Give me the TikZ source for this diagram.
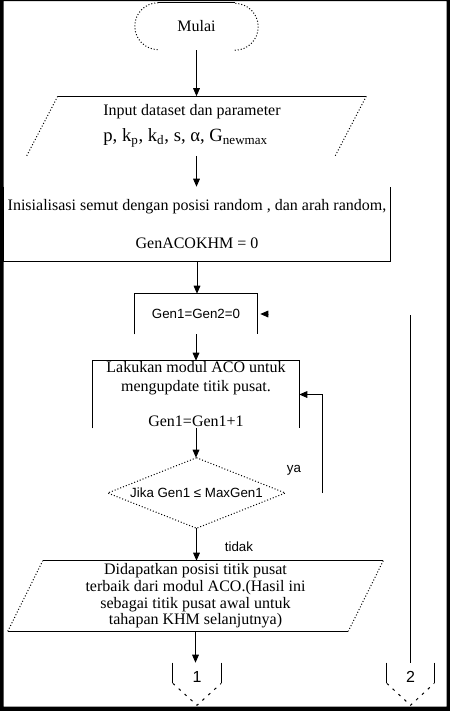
\documentclass[tikz,border=0pt]{standalone}
\usepackage{fontspec}
\setmainfont{Liberation Serif}
\setsansfont{Liberation Sans}
\usepackage{tikz}
\usetikzlibrary{calc,arrows,arrows.meta}

\newcommand{\pxu}{0.75pt}

\tikzset{
	garis/.style={line width=0.75pt},
	titik/.style={line width=0.75pt, dash pattern=on 0.75pt off 1.5pt},
	putus/.style={line width=0.75pt, dash pattern=on 2pt off 4pt},
	blok/.style={rectangle, inner sep=0pt, align=center, font=\fontsize{12}{14.25}\selectfont},
	tulisan/.style={inner sep=0pt, font=\sffamily\fontsize{10}{12}\selectfont},
	panah/.style={garis, ->, >={Triangle[length=6pt,width=5pt]}},
}

\begin{document}
\begin{tikzpicture}[x=\pxu, y=-\pxu]
	\useasboundingbox (0,0) rectangle (450,711);
	%frame
	\fill[even odd rule] (0,0) rectangle (450,711) (3.5,1) rectangle (446.5,706.5);
	
	%blocks
	\node[blok, minimum width=123*\pxu, minimum height=47*\pxu] (mulai) at (196.5,26.5) {Mulai};
	\node[blok, minimum width=308*\pxu, minimum height=59*\pxu, align=left] (input) at (192,126)
		{Input dataset dan parameter\\[5pt]\fontsize{14}{16}\selectfont p, k\textsubscript{p}, k\textsubscript{d}, s, α, G\textsubscript{newmax}};
	\node[blok, minimum width=386*\pxu, minimum height=74*\pxu] (init) at (197,224)
		{Inisialisasi semut dengan posisi random , dan arah  random,\\[14.25pt]GenACOKHM = 0};
	\node[blok, tulisan, minimum width=122*\pxu, minimum height=40*\pxu] (gen) at (196,314) {Gen1=Gen2=0};
	\node[blok, minimum width=206*\pxu, minimum height=67*\pxu] (aco) at (196,394.5)
		{Lakukan modul ACO untuk\\ mengupdate titik pusat.\\[12pt]Gen1=Gen1+1};
	\node[tulisan, minimum width=177*\pxu, minimum height=70*\pxu] (cek) at (196.5,493) {Jika Gen1 ≤ MaxGen1};
	\node[blok, minimum width=340*\pxu, minimum height=70*\pxu, font=\fontsize{12}{12.5}\selectfont] (hasil) at (195.5,596)
		{Didapatkan posisi titik pusat\\ terbaik dari modul ACO.(Hasil ini\\ sebagai titik pusat awal untuk\\ tahapan KHM selanjutnya)};
	\node[tulisan, font=\sffamily\fontsize{12}{14}\selectfont, minimum width=48*\pxu, minimum height=28*\pxu] (satu) at (197,677) {1};
	\node[tulisan, font=\sffamily\fontsize{12}{14}\selectfont, minimum width=47*\pxu, minimum height=28*\pxu] (dua) at (410.5,677) {2};
	
	%outer labels
	\node[tulisan] (ya) at (294,470) {ya};
	\node[tulisan] (tidak) at (239,547) {tidak};
	
	%outlines
	\draw[garis] ($(mulai.north west)+(23.5,0)$) -- ($(mulai.north east)+(-23.5,0)$);
	\draw[titik] ($(mulai.north west)+(23.5,0)$) arc[start angle=90, end angle=270, radius=17.6pt];
	\draw[titik] ($(mulai.south east)+(-23.5,0)$) arc[start angle=-90, end angle=90, radius=17.6pt];
	%
	\draw[titik] ($(input.south west)+(-11,0)$) -- ($(input.north west)+(20,0)$);
	\draw[garis] ($(input.north west)+(20,0)$) -- ($(input.north east)+(20,0)$);
	\draw[titik] ($(input.north east)+(20,0)$) -- ($(input.south east)+(-11,0)$);
	%
	\draw[garis] (init.north west) -- (init.south west) -- (init.south east) -- (init.north east);
	\draw[garis] (gen.south west) -- (gen.north west) -- (gen.north east) -- (gen.south east);
	\draw[garis] (aco.south west) -- (aco.north west) -- (aco.north east) -- (aco.south east);
	\draw[titik] (cek.north) -- (cek.east) -- (cek.south) -- (cek.west) -- cycle;
	%
	\draw[titik] ($(hasil.south west)+(-17.5,0)$) -- ($(hasil.north west)+(17.5,0)$);
	\draw[garis] ($(hasil.north west)+(17.5,0)$) -- ($(hasil.north east)+(17.5,0)$);
	\draw[titik] ($(hasil.north east)+(17.5,0)$) -- ($(hasil.south east)+(-17.5,0)$);
	\draw[garis] ($(hasil.south east)+(-17.5,0)$) -- ($(hasil.south west)+(-17.5,0)$);
	%
	\foreach \k in {satu,dua}{
		\draw[garis] (\k.north west) -- ($(\k.south west)+(0,-8)$);
		\draw[garis] (\k.north east) -- ($(\k.south east)+(0,-8)$);
		\draw[putus] ($(\k.south west)+(0,-8)$) -- ($(\k.south)+(0,14)$) -- ($(\k.south east)+(0,-8)$);
	}
	
	%arrows
	\draw[panah] (mulai.south) -- (mulai.south |- input.north);
	\draw[panah] (mulai.south |- input.south) -- (mulai.south |- init.north);
	\draw[panah] (init.south) -- (init.south |- gen.north);
	\draw[panah] (gen.south) -- (aco.north);
	\draw[panah] (aco.south) -- (aco.south |- cek.north);
	\draw[panah] (cek.south) -- (cek.south |- hasil.north);
	\draw[panah] (hasil.south) -- (hasil.south |- satu.north);
	
	%loops
	\coordinate (ulang) at (322,493);
	\draw[panah] (ulang) |- (aco.east);
	\coordinate (balik) at (410.5,315);
	\draw[garis] (dua.north) -- (balik);
	\coordinate (ujung) at (268,314);
	\draw[panah] (ujung) -- ([xshift=3*\pxu]gen.east);
\end{tikzpicture}
\end{document}
